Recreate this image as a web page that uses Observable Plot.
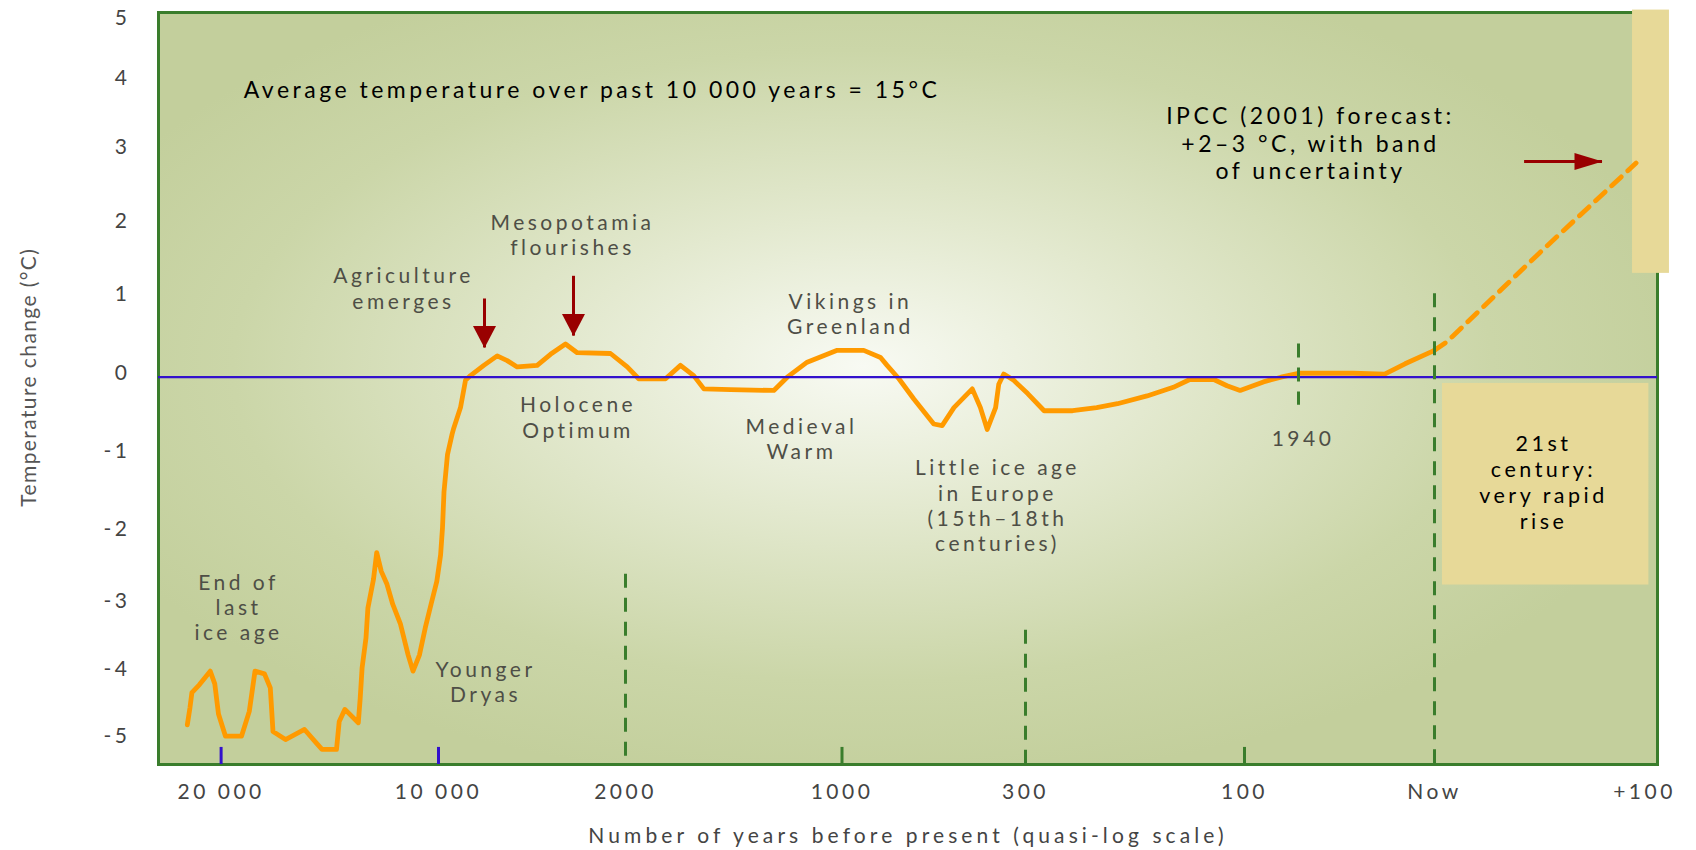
<!DOCTYPE html>
<html>
<head>
<meta charset="utf-8">
<script src="https://cdn.jsdelivr.net/npm/d3@7"></script>
<script src="https://cdn.jsdelivr.net/npm/@observablehq/plot@0.6"></script>
<style>
  body { margin: 0; background: #fff; }
  #chart svg text { letter-spacing: 3.5px; }
</style>
</head>
<body>
<div id="chart"></div>
<script>
// ---- data: years before present (negative = future) and temperature change (°C)
const obsYears = [21555, 21435, 21343, 20994, 20501, 20290, 20120, 19798, 19062, 18703, 18441, 18004, 17737, 17613, 17038, 16164, 15625, 15359, 14692, 14567, 14305, 13689, 13601, 13514, 13335, 13247, 12990, 12842, 12631, 12369, 12102, 11748, 11398, 11173, 10874, 10607, 10345, 10078, 9910, 9829, 9765, 9615, 9418, 9345, 9059, 8845, 8631, 8062, 7489, 7061, 6633, 5778, 5209, 4567, 4066, 2642, 1992, 1939, 1815, 1746, 1685, 1638, 1515, 1315, 1253, 1161, 1022, 917, 853, 828, 783, 726, 650, 618, 573, 503, 472, 446, 414, 402, 383, 345, 298, 283, 257, 235, 216, 189, 165, 150, 128, 116, 104, 86, 73, 60, 36, 22, 13, 0];
const obsTemps = [-4.77, -4.52, -4.29, -4.17, -3.97, -4.16, -4.61, -4.94, -4.94, -4.57, -3.97, -4.01, -4.22, -4.87, -4.99, -4.84, -5.04, -5.14, -5.14, -4.72, -4.54, -4.74, -4.37, -3.92, -3.48, -3.04, -2.64, -2.27, -2.53, -2.71, -2.99, -3.28, -3.73, -3.97, -3.73, -3.33, -2.99, -2.67, -2.30, -1.93, -1.47, -0.99, -0.73, -0.65, -0.39, -0.04, 0.02, 0.15, 0.27, 0.21, 0.13, 0.15, 0.29, 0.42, 0.31, 0.30, 0.13, -0.02, -0.02, 0.15, 0.02, -0.15, -0.16, -0.17, 0.00, 0.19, 0.34, 0.34, 0.25, 0.15, -0.02, -0.28, -0.60, -0.62, -0.39, -0.15, -0.39, -0.67, -0.39, -0.09, 0.04, -0.04, -0.21, -0.43, -0.43, -0.39, -0.34, -0.24, -0.13, -0.03, -0.03, -0.11, -0.17, -0.06, 0.00, 0.05, 0.05, 0.04, 0.17, 0.34];

const forecastYears = [0, -6, -50, -96];
const forecastTemps = [0.34, 0.45, 1.62, 2.84];

// ---- axes
const xTicks = [20000, 10000, 2000, 1000, 300, 100, 0, -100];
const xTickLabels = ["20 000", "10 000", "2000", "1000", "300", "100", "Now", "+100"];
const yTicks = [-5, -4, -3, -2, -1, 0, 1, 2, 3, 4, 5];
const xTitle = "Number of years before present (quasi-log scale)";
const yTitle = ["Temperature change (°C)"];

// ---- reference markers
const markerYears = [2000, 300, 60, 0];
const markerTop = [-2.57, -3.37, 0.42, 1.06];
const markerBottom = [-5.37, -5.37, -0.36, -5.37];
const blueTickYears = [20000, 10000];
const greenTickYears = [1000, 100];
const tickTop = -5.11;
const tickBottom = -5.37;

// ---- annotations
const grayLabels = ["End of\nlast\nice age", "Younger\nDryas", "Agriculture\nemerges", "Mesopotamia\nflourishes", "Holocene\nOptimum", "Vikings in\nGreenland", "Medieval\nWarm", "Little ice age\nin Europe\n(15th–18th\ncenturies)", "1940"];
const grayYears = [19200, 7989, 11610, 4268, 4028, 968, 1187, 407, 58];
const grayTemps = [-3.03, -4.12, 1.14, 1.87, -0.51, 0.81, -0.78, -1.64, -0.78];

const headlineLabel = ["Average temperature over past 10 000 years = 15°C"];
const headlineYear = [3433];
const headlineTemp = [3.88];

const ipccLabel = ["IPCC (2001) forecast:\n+2–3 °C, with band\nof uncertainty"];
const ipccYear = [54.7];
const ipccTemp = [3.12];

const centuryLabel = ["21st\ncentury:\nvery rapid\nrise"];
const centuryYear = [-51.9];
const centuryTemp = [-1.34];

const arrowYears = [8032, 4225];
const arrowFrom = [0.99, 1.30];
const arrowTip = [0.37, 0.52];
const fArrowTemp = [2.86];
const fArrowFrom = [-42.9];
const fArrowTip = [-80];

const boxX1 = [-94.3, -3.8];
const boxX2 = [-111.9, -102.1];
const boxY1 = [1.34, -2.72];
const boxY2 = [5.2, -0.08];

// ---- styles
const orange = "#ff9a00";
const green = "#3a7d2c";
const blue = "#3311cc";
const darkRed = "#990000";
const beige = "#e7d998";
const grayText = "#4e4e46";

const headDown = {draw(ctx, size) { const r = Math.sqrt(size / Math.PI); ctx.moveTo(0, 0); ctx.lineTo(-1.15 * r, -2.2 * r); ctx.lineTo(1.15 * r, -2.2 * r); ctx.closePath(); }};
const headLong = {draw(ctx, size) { const r = Math.sqrt(size / Math.PI); ctx.moveTo(0, 0); ctx.lineTo(-0.85 * r, -2.8 * r); ctx.lineTo(0.85 * r, -2.8 * r); ctx.closePath(); }};

const chart = Plot.plot({
  width: 1696,
  height: 850,
  marginLeft: 158,
  marginRight: 39,
  marginTop: 12,
  marginBottom: 86,
  style: {fontFamily: "Lato, sans-serif", background: "#fff", color: "#444"},
  x: {type: "linear", domain: [22880, 20000, 10000, 2000, 1000, 300, 100, 60, 0, -100, -106.2],
      range: [158, 220.6, 438, 625, 841.5, 1025, 1244, 1298, 1434, 1644, 1657]},
  y: {type: "linear", domain: [-5.37, -5, -4, -3, -2, -1, 0, 1, 2, 3, 4, 5, 5.16],
      range: [764, 739.7, 672.7, 604.7, 532.7, 454.7, 376.7, 297.7, 224.7, 150.7, 81.7, 21.7, 12]},
  marks: [
    Plot.frame({fill: "url(#bg)", stroke: green, strokeWidth: 3}),
    Plot.rect(boxX1, {x1: boxX1, x2: boxX2, y1: boxY1, y2: boxY2, fill: beige}),
    Plot.line(obsTemps, {x: obsYears, y: obsTemps, stroke: orange, strokeWidth: 4.8, strokeLinejoin: "round"}),
    Plot.line(forecastTemps, {x: forecastYears, y: forecastTemps, stroke: orange, strokeWidth: 4.8, strokeDasharray: "13,9"}),
    Plot.ruleY([0], {stroke: blue, strokeWidth: 2.2}),
    Plot.ruleX(markerYears, {x: markerYears, y1: markerTop, y2: markerBottom, stroke: green, strokeWidth: 3, strokeDasharray: "14,10"}),
    Plot.ruleX(blueTickYears, {x: blueTickYears, y1: tickTop, y2: tickBottom, stroke: blue, strokeWidth: 3}),
    Plot.ruleX(greenTickYears, {x: greenTickYears, y1: tickTop, y2: tickBottom, stroke: green, strokeWidth: 3}),
    Plot.ruleX(arrowYears, {x: arrowYears, y1: arrowFrom, y2: arrowTip, stroke: darkRed, strokeWidth: 3}),
    Plot.dot(arrowYears, {x: arrowYears, y: arrowTip, symbol: headDown, r: 10, fill: darkRed, stroke: null}),
    Plot.ruleY(fArrowTemp, {y: fArrowTemp, x1: fArrowFrom, x2: fArrowTip, stroke: darkRed, strokeWidth: 3}),
    Plot.dot(fArrowTemp, {x: fArrowTip, y: fArrowTemp, symbol: headLong, r: 10, rotate: -90, fill: darkRed, stroke: null}),
    Plot.text(grayLabels, {x: grayYears, y: grayTemps, text: d => d, fill: grayText, fontSize: 21, lineHeight: 1.2}),
    Plot.text(headlineLabel, {x: headlineYear, y: headlineTemp, text: d => d, fill: "#000", fontSize: 23}),
    Plot.text(ipccLabel, {x: ipccYear, y: ipccTemp, text: d => d, fill: "#000", fontSize: 23, lineHeight: 1.2}),
    Plot.text(centuryLabel, {x: centuryYear, y: centuryTemp, text: d => d, fill: "#000", fontSize: 21.5, lineHeight: 1.2}),
    Plot.text(yTitle, {frameAnchor: "left", y: [0], text: d => d, dx: -129, rotate: -90, textAnchor: "middle", fill: "#555", fontSize: 21}),
    Plot.axisY({ticks: yTicks, tickFormat: d => String(d), tickSize: 0, tickPadding: 28, dy: -4, label: null, fontSize: 21, fill: "#444"}),
    Plot.axisX({ticks: xTicks, tickFormat: d => xTickLabels[xTicks.indexOf(d)], tickSize: 0, tickPadding: 20, fontSize: 21, fill: "#444",
      label: xTitle, labelAnchor: "center", labelArrow: "none", labelOffset: 78})
  ]
});

chart.insertAdjacentHTML("afterbegin",
  `<defs><radialGradient id="bg" cx="0.47" cy="0.47" r="0.56">
     <stop offset="0" stop-color="#f8faf3"/>
     <stop offset="0.35" stop-color="#e3e9cf"/>
     <stop offset="0.75" stop-color="#cbd6a8"/>
     <stop offset="1" stop-color="#c3cf9c"/>
   </radialGradient></defs>`);

// per-title letter spacing tweaks
d3.select(chart).selectAll("text")
  .filter(function() { return this.textContent === yTitle[0]; })
  .style("letter-spacing", "1.4px");
d3.select(chart).selectAll("text")
  .filter(function() { return this.textContent === xTitle; })
  .style("letter-spacing", "4.1px");

document.getElementById("chart").appendChild(chart);
</script>
</body>
</html>
